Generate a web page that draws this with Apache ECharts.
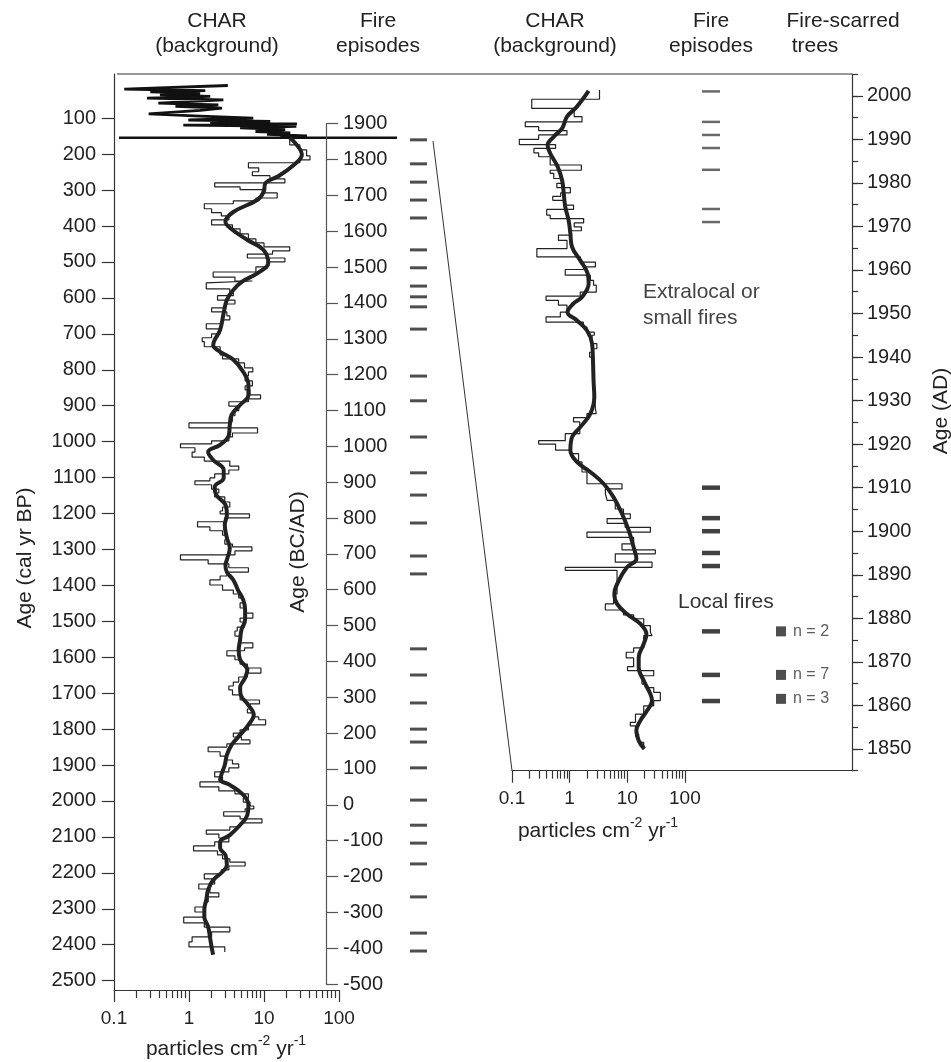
<!DOCTYPE html>
<html>
<head>
<meta charset="utf-8">
<title>CHAR background and fire episodes</title>
<script src="https://cdn.jsdelivr.net/npm/echarts@6/dist/echarts.min.js"></script>
<style>
  html, body { margin: 0; padding: 0; background: #fff; }
  #main { width: 951px; height: 1062px; }
</style>
</head>
<body>
<div id="main"></div>
<script>
// ---------- long record, cal yr BP ----------
// CHAR step histogram: sample top ages (last entry = base of last sample)
const charAgeBP = [
  155,174,188,205,216,224,238,249,260,269,
  280,291,299,308,322,330,338,352,363,372,
  383,397,408,422,436,447,458,469,478,489,
  500,514,528,542,553,558,575,586,594,606,
  617,628,639,650,661,672,686,700,711,722,
  736,759,770,781,795,806,817,831,845,856,
  870,881,889,901,914,928,940,948,962,976,
  987,998,1006,1017,1029,1043,1054,1068,1079,1090,
  1101,1109,1120,1132,1143,1154,1168,1182,1193,1201,
  1212,1223,1237,1248,1260,1273,1285,1293,1304,1315,
  1329,1340,1351,1363,1374,1385,1399,1413,1424,1435,
  1449,1463,1477,1491,1502,1516,1527,1541,1560,1574,
  1582,1596,1607,1619,1630,1644,1655,1669,1680,1691,
  1705,1719,1730,1744,1755,1766,1774,1788,1802,1811,
  1822,1830,1841,1850,1863,1875,1886,1897,1908,1919,
  1933,1947,1961,1972,1980,1992,2003,2014,2022,2030,
  2042,2050,2061,2072,2081,2092,2103,2114,2125,2139,
  2150,2161,2170,2181,2192,2203,2217,2231,2245,2256,
  2267,2281,2295,2309,2323,2339,2351,2364,2378,2392,
  2406,2420
];
const charValueBP = [
  22,30,37,41,30,6.2,8.5,7,12,19,
  2.2,4.8,9.5,15,7.8,3.9,1.6,2.0,2.7,3.4,
  2.0,3.8,4.8,6.2,7.8,10,22,13,6,19,
  11,7.8,2.1,4.1,7,1.7,3.5,3.9,2.4,4.1,
  3.0,2.0,3.2,3.5,2.7,1.7,2.6,2.0,1.5,1.6,
  2.6,2.8,4.6,5.5,7.1,6.2,5.6,7,5.6,6.5,
  9,6.2,3.4,4.6,4.1,3.8,3.7,1.0,8.2,3.8,
  3.4,2.0,0.77,1.2,1.1,1.6,3.5,4.6,3.4,2.2,
  1.9,1.2,2.0,2.5,2.2,3.0,3.5,2.8,2.6,6.4,
  3.0,1.3,1.9,2.8,3.2,3.0,3.8,6.9,4.1,0.77,
  1.8,3.4,6.2,3.2,2.6,1.9,2.8,3.9,4.6,5.3,
  4.8,5.6,7.1,4.8,5.5,4.4,4.1,4.8,7.1,5.5,
  3.2,4.1,4.8,6,9.1,6,4.6,3.9,3.4,3.8,
  4.8,8.7,6.5,6,7.3,8.5,10.5,6.2,4.8,3.9,
  5,6.5,3.2,1.8,2.6,3.2,3.8,4.6,3.4,2.2,
  2.8,1.4,2.5,4.1,6.2,5.3,6.5,7.3,5.6,2.9,
  4.8,9.4,4.8,3.5,1.7,2.5,3.4,2.2,1.15,2.4,
  2.8,3.5,5.6,3.4,2.7,1.6,2.2,1.35,1.9,2.5,
  1.8,1.6,1.2,1.6,0.85,1.6,3.5,2.0,1.1,1.0,
  3.0
];
// smoothed background CHAR
const smoothAgeBP = [154,202,233,263,280,305,327,361,388,405,439,466,503,531,556,578,605,642,689,717,731,750,772,806,842,870,898,925,953,982,1009,1029,1051,1079,1101,1126,1148,1176,1204,1231,1268,1296,1329,1343,1363,1385,1413,1441,1468,1496,1524,1552,1580,1607,1635,1657,1685,1705,1733,1760,1788,1816,1844,1872,1900,1927,1941,1955,1983,2011,2039,2067,2095,2114,2131,2150,2178,2197,2220,2247,2275,2303,2322,2350,2378,2406,2428];
const smoothValueBP = [22,32,24,15,10.5,9.9,8.2,3.9,3.06,3.5,6,9.8,11.4,8.2,5,3.9,3.2,2.9,2.6,2.2,2.1,2.6,3.9,5.3,6.2,6.2,4.8,3.7,3.5,3.4,2.6,1.8,2.1,2.9,2.9,2.2,2.3,3.06,3.2,3.0,3.2,3.5,3.2,3.06,3.2,3.9,4.5,5.3,5.6,5.6,5.0,4.8,4.6,4.8,6.0,5.6,4.8,4.9,6.2,7.3,6.2,4.8,3.7,3.2,3.0,2.7,2.6,3.5,5.3,6.2,6.0,4.8,3.5,2.6,2.6,3.06,3.2,2.8,2.1,1.8,1.7,1.6,1.6,1.8,1.9,2.0,2.1];
// compressed high-resolution section above the break
const topAgeBP = [9,19,23,27,31,35,39,44,49,58,63,67,72,78,88,94,100,105,109,113,116,119,123,127,132,137,141,145,149,154];
const topValueBP = [3.3,0.137,1.65,0.305,1.41,0.41,1.92,0.275,2.87,0.39,2.46,0.66,2.75,1.41,0.29,1.41,7.2,0.98,12.1,1.92,27.5,0.84,27,4.8,19.2,7.7,22.4,11,37.4,16.5];
const breakAgeBP = 154;
// fire episodes, yr BC/AD
const fireEpisodesBCAD = [1855,1788,1737,1687,1637,1548,1498,1447,1417,1389,1327,1196,1127,1026,926,864,786,694,644,435,362,284,211,175,103,13,-57,-107,-165,-257,-358,-408];

// ---------- recent record, yr AD ----------
const charYearAD = [
  2001.3,1999.2,1997.1,1995.2,1994.0,1992.9,1992.0,1991.0,1990.0,1988.8,
  1987.9,1986.9,1986.0,1984.1,1982.9,1982.2,1981.0,1979.9,1978.9,1977.7,
  1976.9,1976.0,1974.9,1973.9,1972.6,1971.8,1970.8,1969.9,1969.0,1968.0,
  1966.8,1964.9,1963.0,1961.8,1960.7,1960.1,1958.8,1957.6,1956.5,1954.9,
  1954.0,1953.0,1951.9,1950.3,1949.2,1948.0,1946.9,1945.7,1945.0,1943.1,
  1941.9,1941.1,1940.0,1937.7,1934.6,1928.1,1927.0,1926.1,1925.1,1922.4,
  1920.8,1920.0,1918.6,1917.8,1915.9,1913.6,1910.9,1909.7,1908.6,1907.1,
  1905.1,1904.0,1902.9,1901.8,1900.9,1899.8,1898.6,1897.1,1895.7,1894.8,
  1892.9,1891.7,1891.0,1885.6,1883.3,1881.9,1880.8,1879.9,1878.3,1876.8,
  1876.0,1873.2,1872.2,1870.9,1868.9,1868.0,1866.8,1864.9,1864.1,1863.0,
  1861.1,1859.9,1858.0,1856.1,1855.3,1853.4,1851.5,1850.0
];
const charValueAD = [
  3.3,0.22,1.2,1.64,0.17,0.29,0.9,0.29,0.134,0.57,
  0.24,0.29,0.46,1.6,0.46,0.53,0.74,0.6,1.03,0.7,
  0.51,0.79,1.17,0.4,0.46,1.75,1.2,1.6,1.0,0.64,
  0.9,0.27,1.53,2.8,1.8,0.84,2.29,2.6,2.9,1.53,
  0.39,0.64,0.9,0.69,0.39,1.73,2.0,2.68,2.45,2.97,
  2.55,2.22,2.6,2.68,2.8,2.9,2.0,1.17,1.5,0.84,
  0.29,0.57,1.03,1.43,1.64,2.0,8.1,4.17,4.47,6.2,
  8.6,11.3,4.47,9.2,25.2,2.0,12.9,8.1,30.7,6.2,
  26.9,0.84,6.65,5.8,4.17,8.6,12.9,19.3,25.2,26.9,
  19.3,12.9,9.6,12.9,10.1,28.8,18,20.5,28.8,37.5,
  28.8,19.3,13.9,11.3,13.9,15.8,19.3
];
const smoothYearAD = [2001.1,1997.5,1995.2,1992.5,1990.6,1988.7,1986.8,1983.7,1980.6,1977.6,1974.5,1971.4,1968.4,1965.3,1962.2,1959.2,1956.9,1953.8,1952.3,1950.3,1948.4,1946.1,1943.1,1938.5,1934.6,1930.8,1927,1923.9,1921.6,1918.6,1915.9,1913.6,1910.9,1907.8,1904,1900.2,1896.3,1893.7,1891.7,1888.6,1885.6,1883.3,1881,1878.7,1876.4,1874.1,1871,1868.7,1865.7,1862.6,1861.1,1858.8,1856.5,1854.2,1851.9,1850];
const smoothValueAD = [2.14,1.34,0.90,0.74,0.53,0.415,0.46,0.62,0.74,0.79,0.84,0.96,1.03,1.10,1.53,2.05,2.14,1.64,1.17,0.92,1.34,2.0,2.45,2.55,2.6,2.68,2.29,1.53,1.10,1.03,1.34,2.29,3.89,5.8,8.1,10.6,12.9,14.4,9.9,7.1,5.97,6.65,9.9,16.9,21.5,19.3,15.8,15.8,19.3,25.2,26.9,22.1,16.9,14.4,15.8,19.8];
const extralocalFiresAD = [2001,1994,1991,1988,1983,1974,1971];
const localFiresAD = [1910,1903,1900,1895,1892,1877,1867,1861];
const scarYearsAD = [1877,1867,1861.5];
const scarCounts = [2,7,3];

// ---------- tick labels ----------
const bpTicks = [100,200,300,400,500,600,700,800,900,1000,1100,1200,1300,1400,1500,1600,1700,1800,1900,2000,2100,2200,2300,2400,2500];
const adTicks = [1850,1860,1870,1880,1890,1900,1910,1920,1930,1940,1950,1960,1970,1980,1990,2000];
const logLabels = [0.1,1,10,100];
const logMinor = [0.2,0.3,0.4,0.5,0.6,0.7,0.8,0.9,2,3,4,5,6,7,8,9,20,30,40,50,60,70,80,90];

const FONT = "'Liberation Sans', Arial, Helvetica, sans-serif";
const INK = '#222';
const lg = v => Math.log10(v);

// vertical step outline: each sample holds its value from its top age to the next one
function stepPoints(ages, vals) {
  const pts = [];
  vals.forEach(function (v, i) {
    pts.push([lg(v), ages[i]]);
    pts.push([lg(v), ages[i + 1]]);
  });
  return pts;
}
function linePoints(ages, vals) {
  return vals.map(function (v, i) { return [lg(v), ages[i]]; });
}
function logFmt(v) {
  const n = Math.pow(10, v);
  return n < 1 ? n.toFixed(1) : String(Math.round(n));
}
const plainFmt = v => String(v);

const axisLine = { show: true, onZero: false, lineStyle: { color: '#333', width: 1.2 } };
const tickStyle = { color: '#333', width: 1.2 };
const labelStyle = { color: INK, fontFamily: FONT, fontSize: 20, formatter: plainFmt };

function majorX(grid, max) {
  return {
    gridIndex: grid, type: 'value', min: -1, max: max, position: 'bottom',
    axisLine: axisLine, splitLine: { show: false },
    axisTick: { show: true, length: 12, customValues: logLabels.map(lg), lineStyle: tickStyle },
    axisLabel: Object.assign({}, labelStyle, { fontSize: 19, margin: 19, customValues: logLabels.map(lg), formatter: logFmt })
  };
}
function minorX(grid, max) {
  return {
    gridIndex: grid, type: 'value', min: -1, max: max, position: 'bottom',
    axisLine: { show: false, onZero: false }, splitLine: { show: false },
    axisTick: { show: true, length: 8, customValues: logMinor.map(lg), lineStyle: tickStyle },
    axisLabel: { show: false }
  };
}
function hiddenY(grid, min, max) {
  return { gridIndex: grid, type: 'value', min: min, max: max, show: false, splitLine: { show: false }, axisLine: { onZero: false } };
}
function txt(text, x, y, extra, align, fill) {
  return Object.assign({
    type: 'text', x: x, y: y, silent: true,
    style: {
      text: text, x: 0, y: 0, fill: fill || INK, font: '21px ' + FONT,
      align: align || 'center', verticalAlign: 'middle',
      textAlign: align || 'center', textVerticalAlign: 'middle'
    }
  }, extra || {});
}
function unitText(x, y) {
  return {
    type: 'text', x: x, y: y, silent: true,
    style: {
      text: '{b|particles cm}{s|-2}{b| yr}{s|-1}', x: 0, y: 0,
      align: 'center', verticalAlign: 'middle', textAlign: 'center', textVerticalAlign: 'middle',
      rich: {
        b: { fontSize: 21, fontFamily: FONT, fill: INK, color: INK, lineHeight: 30 },
        s: { fontSize: 14, fontFamily: FONT, fill: INK, color: INK, lineHeight: 18, verticalAlign: 'top' }
      }
    }
  };
}

const chart = echarts.init(document.getElementById('main'));

chart.setOption({
  animation: false,
  backgroundColor: '#fff',
  textStyle: { fontFamily: FONT, color: INK },
  grid: [
    { left: 114, top: 74, width: 225, height: 916, outerBoundsMode: 'none' },     // CHAR, cal yr BP
    { left: 325, top: 123.7, width: 1, height: 860.3, outerBoundsMode: 'none' },  // BC/AD scale
    { left: 410, top: 123.7, width: 17, height: 860.3, outerBoundsMode: 'none' }, // fire episodes
    { left: 512, top: 74, width: 340, height: 696.7, outerBoundsMode: 'none' },   // CHAR, AD
    { left: 702, top: 74, width: 18, height: 696.7, outerBoundsMode: 'none' },    // fire episodes AD
    { left: 776, top: 74, width: 10, height: 696.7, outerBoundsMode: 'none' }     // fire-scarred trees
  ],
  xAxis: [
    majorX(0, 2),
    minorX(0, 2),
    { gridIndex: 1, type: 'value', show: false, splitLine: { show: false } },
    { gridIndex: 2, type: 'category', data: ['fire'], show: false },
    majorX(3, 4.9),
    minorX(3, 4.9),
    { gridIndex: 4, type: 'category', data: ['fire'], show: false },
    { gridIndex: 5, type: 'category', data: ['scar'], show: false }
  ],
  yAxis: [
    {
      gridIndex: 0, type: 'value', inverse: true, min: -23, max: 2526, position: 'left',
      axisLine: axisLine, splitLine: { show: false },
      axisTick: { show: true, length: 12, customValues: bpTicks, lineStyle: tickStyle },
      axisLabel: Object.assign({}, labelStyle, { margin: 18, customValues: bpTicks })
    },
    {
      gridIndex: 1, type: 'value', min: -500, max: 1900, interval: 100, position: 'right',
      axisLine: { show: true, onZero: false, lineStyle: { color: '#555', width: 1.2 } },
      splitLine: { show: false },
      axisTick: { show: true, length: 12, lineStyle: { color: '#555', width: 1.2 } },
      axisLabel: Object.assign({}, labelStyle, { margin: 17 })
    },
    hiddenY(2, -500, 1900),
    {
      gridIndex: 3, type: 'value', min: 1845, max: 2005, interval: 5, position: 'right',
      axisLine: axisLine, splitLine: { show: false },
      axisTick: { show: true, length: 6, lineStyle: tickStyle },
      axisLabel: Object.assign({}, labelStyle, { margin: 15, customValues: adTicks })
    },
    {
      gridIndex: 3, type: 'value', min: 1845, max: 2005, position: 'right',
      axisLine: { show: false, onZero: false }, splitLine: { show: false },
      axisTick: { show: true, length: 11, customValues: adTicks, lineStyle: tickStyle },
      axisLabel: { show: false }
    },
    hiddenY(4, 1845, 2005),
    hiddenY(5, 1845, 2005)
  ],
  series: [
    {
      name: 'CHAR BP', type: 'line', xAxisIndex: 0, yAxisIndex: 0,
      data: stepPoints(charAgeBP, charValueBP), symbol: 'none', silent: true,
      lineStyle: { color: INK, width: 1.2 }, z: 2
    },
    {
      name: 'CHAR recent (compressed)', type: 'line', xAxisIndex: 0, yAxisIndex: 0,
      data: linePoints(topAgeBP, topValueBP), symbol: 'none', silent: true,
      lineStyle: { color: '#111', width: 2.8 }, z: 3
    },
    {
      name: 'Background BP', type: 'line', xAxisIndex: 0, yAxisIndex: 0,
      data: linePoints(smoothAgeBP, smoothValueBP), symbol: 'none', smooth: 0.4, silent: true,
      lineStyle: { color: INK, width: 4 }, z: 4
    },
    {
      name: 'Fire episodes', type: 'scatter', xAxisIndex: 3, yAxisIndex: 2,
      data: fireEpisodesBCAD.map(function (y) { return [0, y]; }),
      symbol: 'rect', symbolSize: [17, 3], itemStyle: { color: INK }, silent: true
    },
    {
      name: 'CHAR AD', type: 'line', xAxisIndex: 4, yAxisIndex: 3,
      data: stepPoints(charYearAD, charValueAD), symbol: 'none', silent: true,
      lineStyle: { color: INK, width: 1.2 }, z: 2
    },
    {
      name: 'Background AD', type: 'line', xAxisIndex: 4, yAxisIndex: 3,
      data: linePoints(smoothYearAD, smoothValueAD), symbol: 'none', smooth: 0.4, silent: true,
      lineStyle: { color: INK, width: 4 }, z: 4
    },
    {
      name: 'Extralocal or small fires', type: 'scatter', xAxisIndex: 6, yAxisIndex: 5,
      data: extralocalFiresAD.map(function (y) { return [0, y]; }),
      symbol: 'rect', symbolSize: [18, 2.5], itemStyle: { color: '#444' }, silent: true
    },
    {
      name: 'Local fires', type: 'scatter', xAxisIndex: 6, yAxisIndex: 5,
      data: localFiresAD.map(function (y) { return [0, y]; }),
      symbol: 'rect', symbolSize: [18, 4.5], itemStyle: { color: '#111' }, silent: true
    },
    {
      name: 'Fire-scarred trees', type: 'scatter', xAxisIndex: 7, yAxisIndex: 6,
      data: scarYearsAD.map(function (y, i) { return { value: [0, y], n: scarCounts[i] }; }),
      symbol: 'rect', symbolSize: 10, itemStyle: { color: INK }, silent: true,
      label: {
        show: true, position: 'right', distance: 7, fontSize: 16, fontFamily: FONT, color: '#333',
        formatter: function (p) { return 'n = ' + p.data.n; }
      }
    }
  ],
  graphic: [
    // frame top and zoom connector
    { type: 'line', silent: true, shape: { x1: 117, y1: 74, x2: 852, y2: 74 }, style: { stroke: '#333', lineWidth: 1.2 } },
    { type: 'line', silent: true, shape: { x1: 119, y1: 82.4 + breakAgeBP * 0.35933, x2: 397, y2: 82.4 + breakAgeBP * 0.35933 }, style: { stroke: '#111', lineWidth: 2.6 } },
    { type: 'line', silent: true, shape: { x1: 433, y1: 141, x2: 512, y2: 770.7 }, style: { stroke: '#333', lineWidth: 1 } },
    // column headers
    txt('CHAR', 217, 21), txt('(background)', 217, 46),
    txt('Fire', 378, 21), txt('episodes', 378, 46),
    txt('CHAR', 555, 21), txt('(background)', 555, 46),
    txt('Fire', 711, 21), txt('episodes', 711, 46),
    txt('Fire-scarred', 843, 21), txt('trees', 815, 46),
    // annotations
    txt('Extralocal or', 643, 292, null, 'left', '#444'),
    txt('small fires', 643, 318, null, 'left', '#444'),
    txt('Local fires', 678, 602, null, 'left', '#333'),
    // axis titles
    txt('Age (cal yr BP)', 25, 558, { rotation: Math.PI / 2 }),
    txt('Age (BC/AD)', 298, 552, { rotation: Math.PI / 2 }),
    txt('Age (AD)', 941, 411, { rotation: Math.PI / 2 }),
    unitText(226, 1049),
    unitText(598, 831)
  ]
});
</script>
</body>
</html>
